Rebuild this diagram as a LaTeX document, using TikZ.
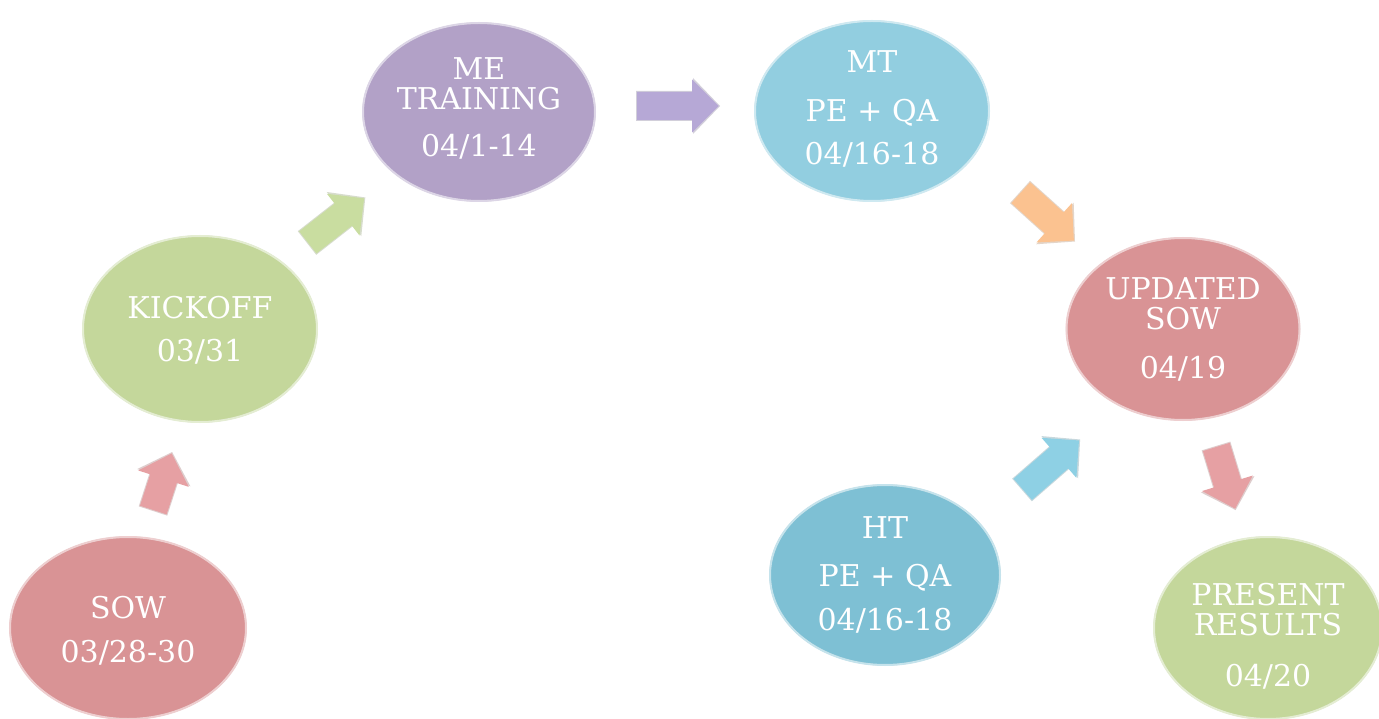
\documentclass[tikz,border=0pt]{standalone}
\usepackage{fontspec}
\setmainfont{DejaVu Serif}
\usetikzlibrary{shapes.geometric,calc}
\definecolor{cpink}{HTML}{D99395}
\definecolor{cgreen}{HTML}{C4D79B}
\definecolor{cpurple}{HTML}{B2A1C7}
\definecolor{cblue}{HTML}{92CEE0}
\definecolor{cdblue}{HTML}{7EC0D4}
\definecolor{apink}{HTML}{E6A0A3}
\definecolor{agreen}{HTML}{C9DDA0}
\definecolor{apurple}{HTML}{B6A8D6}
\definecolor{aorange}{HTML}{FBC290}
\definecolor{ablue}{HTML}{8ED0E4}
\tikzset{
  bubble/.style={ellipse, inner sep=0pt, minimum width=234pt, minimum height=180pt,
    fill=#1, draw=black!22, line width=1.2pt,
    postaction={draw=#1!45!white, line width=2pt}},
  lbl/.style={text=white, anchor=base, inner sep=0pt, font=\fontsize{30}{31}\selectfont},
}
% block arrow: colour, tail point, angle, length
\newcommand{\blockarrowA}[4]{%
  \begin{scope}[shift={#2}, rotate=#3]
    \fill[#1!70!black, opacity=0.35] (0,-15) -- (#4-27,-15) -- (#4-27,-28) -- (#4,0) -- (#4-27,28) -- (#4-27,15) -- (0,15) -- cycle;
    \fill[#1] (1,-14) -- (#4-28,-14) -- (#4-28,-26.5) -- (#4-1.5,0) -- (#4-28,26.5) -- (#4-28,14) -- (1,14) -- cycle;
  \end{scope}}
\begin{document}
\begin{tikzpicture}[x=1pt,y=-1pt]
\useasboundingbox (0,0) rectangle (1379,719);
\fill[white] (0,0) rectangle (1379,719);

% ellipses
\node[bubble=cpink, minimum width=236pt, minimum height=182pt] (sow) at (128,628) {};
\node[bubble=cgreen, minimum width=234pt, minimum height=186pt] (kick) at (200,329) {};
\node[bubble=cpurple, minimum width=232pt, minimum height=178pt] (me) at (479,112) {};
\node[bubble=cblue, minimum width=234pt, minimum height=180pt] (mt) at (872,111) {};
\node[bubble=cpink, minimum width=233pt, minimum height=182pt] (upd) at (1183,329) {};
\node[bubble=cdblue, minimum width=230pt, minimum height=180pt] (ht) at (885,575) {};
\node[bubble=cgreen, minimum width=228pt, minimum height=182pt] (pres) at (1268,628) {};

% texts
\node[lbl] (sowa) at ($(sow)+(0,-10)$) {SOW};
\node[lbl] (sowb) at ($(sow)+(0,34)$) {03/28-30};
\node[lbl] (kicka) at ($(kick)+(0,-10)$) {KICKOFF};
\node[lbl] (kickb) at ($(kick)+(0,33)$) {03/31};
\node[lbl] (mea) at ($(me)+(0,-32)$) {ME};
\node[lbl] (meb) at ($(me)+(0,-2)$) {TRAINING};
\node[lbl] (mec) at ($(me)+(0,45)$) {04/1-14};
\node[lbl] (mta) at ($(mt)+(0,-38)$) {MT};
\node[lbl] (mtb) at ($(mt)+(0,11)$) {PE + QA};
\node[lbl] (mtc) at ($(mt)+(0,54)$) {04/16-18};
\node[lbl] (upda) at ($(upd)+(0,-29)$) {UPDATED};
\node[lbl] (updb) at ($(upd)+(0,1)$) {SOW};
\node[lbl] (updc) at ($(upd)+(0,49)$) {04/19};
\node[lbl] (hta) at ($(ht)+(0,-37)$) {HT};
\node[lbl] (htb) at ($(ht)+(0,11)$) {PE + QA};
\node[lbl] (htc) at ($(ht)+(0,55)$) {04/16-18};
\node[lbl] (presa) at ($(pres)+(0,-23)$) {PRESENT};
\node[lbl] (presb) at ($(pres)+(0,7)$) {RESULTS};
\node[lbl] (presc) at ($(pres)+(0,58)$) {04/20};

% arrows
\blockarrowA{apink}{(153,511)}{72}{62}
\blockarrowA{agreen}{(307,243)}{38}{74}
\blockarrowA{apurple}{(636,106)}{0}{84}
\blockarrowA{aorange}{(1020,192)}{-42}{74}
\blockarrowA{ablue}{(1022,490)}{41}{77}
\blockarrowA{apink}{(1216,446)}{-73}{67}
\end{tikzpicture}
\end{document}
